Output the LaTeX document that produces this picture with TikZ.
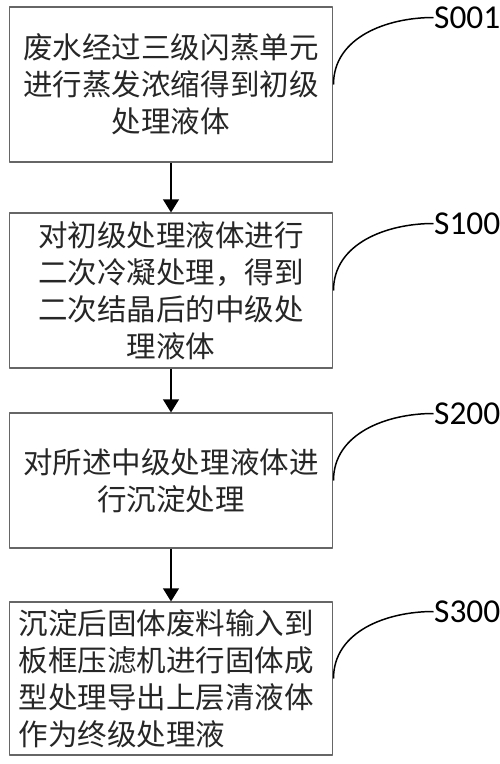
\documentclass[tikz,border=0pt]{standalone}
\usepackage{fontspec}
\setmainfont{Carlito}
\newfontfamily\cjk{Noto Sans CJK SC}
\usetikzlibrary{arrows.meta,positioning}
\tikzset{
  stepbox/.style={draw=black!60, line width=0.6pt, minimum width=6.48cm, text width=6.1cm,
    align=center, inner sep=0pt, text=black!85, font=\cjk\fontsize{16.8}{21}\selectfont},
  tag/.style={anchor=west, inner sep=0pt, font=\fontsize{19}{19}\selectfont},
  link/.style={line width=0.85pt},
}
\begin{document}
\begin{tikzpicture}[x=0.02cm, y=-0.02cm, line join=round, >={Triangle[width=9pt,length=7.5pt]}]
\useasboundingbox (0,0) rectangle (500,764);
\node[stepbox, minimum height=3.1cm] (box1) at (171,84.5) {废水经过三级闪蒸单元\\进行蒸发浓缩得到初级\\处理液体};
\node[stepbox, minimum height=3.1cm] (box2) at (171,290.5) {对初级处理液体进行\\二次冷凝处理，得到\\二次结晶后的中级处\\理液体};
\node[stepbox, minimum height=2.7cm] (box3) at (171,480.5) {对所述中级处理液体进\\行沉淀处理};
\node[stepbox, minimum height=3.06cm, align=left] (box4) at (171,678.5) {沉淀后固体废料输入到\\板框压滤机进行固体成\\型处理导出上层清液体\\作为终级处理液};
\draw[->, line width=1.1pt] (box1) -- (box2);
\draw[->, line width=1.1pt] (box2) -- (box3);
\draw[->, line width=1.1pt] (box3) -- (box4);
\foreach \b/\t in {box1/S001, box2/S100, box3/S200, box4/S300}
  \draw[link] (\b.east) to[out=90, in=180] ++(100,-67) node[tag] (tag-\b) {\t};
\end{tikzpicture}
\end{document}
